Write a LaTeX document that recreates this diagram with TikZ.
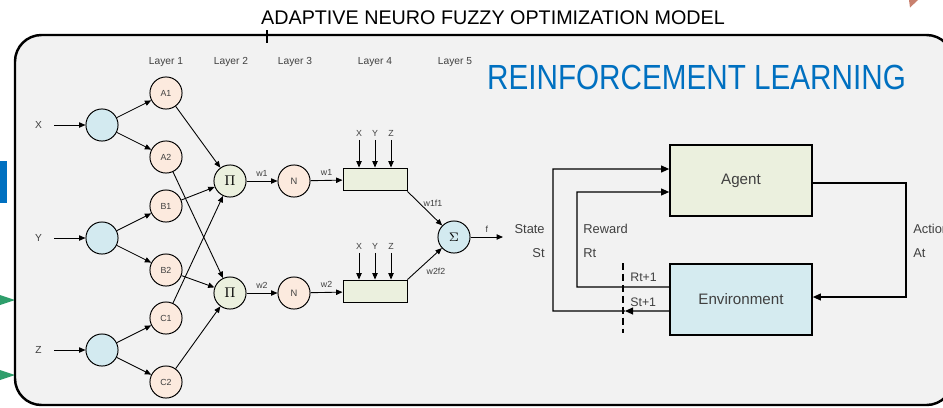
\documentclass[tikz,border=0pt]{standalone}
\usepackage{fontspec}
\setmainfont{Liberation Sans}
\usetikzlibrary{arrows.meta}
\definecolor{bgc}{HTML}{F2F2F2}
\definecolor{inblue}{HTML}{D3EAF0}
\definecolor{peach}{HTML}{FCEADE}
\definecolor{pigreen}{HTML}{EBF0DE}
\definecolor{envblue}{HTML}{D5EBF0}
\definecolor{rlblue}{HTML}{0070C0}
\definecolor{txtgray}{HTML}{404040}
\definecolor{artgreen}{HTML}{2E9E6B}
\definecolor{artbrown}{HTML}{C8806E}
\tikzset{
  circ/.style={circle, draw=black, line width=0.55pt, minimum size=18.2pt, inner sep=0pt},
  inc/.style={circ, fill=inblue},
  mfc/.style={circ, fill=peach, font=\fontsize{5}{6}\selectfont, text=txtgray},
  pic/.style={circ, fill=pigreen, font=\fontsize{8}{9}\selectfont},
  nc/.style={circ, fill=peach, font=\fontsize{5.3}{6}\selectfont, text=txtgray},
  sumc/.style={circ, fill=inblue, font=\fontsize{7}{8}\selectfont},
  lbox/.style={draw=black, line width=0.55pt, fill=pigreen, minimum width=36.3pt, minimum height=13pt, inner sep=0pt},
  bigbox/.style={draw=black, line width=1pt, minimum width=80.5pt, minimum height=40.3pt, inner sep=0pt, font=\fontsize{8.6}{10}\selectfont, text=txtgray},
  arr/.style={line width=0.5pt, -{Triangle[length=3.6pt,width=3pt]}},
  barr/.style={line width=0.6pt, -{Triangle[length=4.6pt,width=4pt]}},
  plain/.style={line width=0.6pt},
  small/.style={font=\fontsize{5.8}{7}\selectfont, text=txtgray, inner sep=0pt},
  tiny/.style={font=\fontsize{5}{6}\selectfont, text=txtgray, inner sep=0pt},
  rlab/.style={font=\fontsize{7.3}{9}\selectfont, text=txtgray, inner sep=0pt},
  dashline/.style={line width=1.4pt, dash pattern=on 4pt off 2.2pt}
}
\begin{document}
\begin{tikzpicture}[x=0.5672pt,y=-0.5672pt]
\useasboundingbox (0,0) rectangle (943,407);
% stray fragments at the edges
\fill[rlblue] (0,161) rectangle (7,203);
\fill[artgreen] (0,295) -- (15,300) -- (0,305) -- cycle;
\fill[artgreen] (0,370) -- (15,375) -- (0,380) -- cycle;
\fill[artbrown] (909,0) -- (918,0) -- (910,7.5) -- cycle;
% title
\node[font=\fontsize{11.2}{13}\selectfont, inner sep=0pt] (title) at (493,18) {ADAPTIVE NEURO FUZZY OPTIMIZATION MODEL};
% frame
\draw[line width=1.4pt, fill=bgc, rounded corners=15pt] (15,35) rectangle (953,405);
\draw[line width=0.6pt] (267,30) -- (267,43);
% RL heading
\node[font=\fontsize{19.8}{22}\selectfont, text=rlblue, inner sep=0pt] (rl) at (696.5,77) {\scalebox{0.85}[1]{REINFORCEMENT LEARNING}};
% layer labels
\node[small] (l1) at (166,62) {Layer 1};
\node[small] (l2) at (231,62) {Layer 2};
\node[small] (l3) at (295,62) {Layer 3};
\node[small] (l4) at (375,62) {Layer 4};
\node[small] (l5) at (455,62) {Layer 5};
% inputs
\node[small] (xl) at (38.5,125) {X};
\node[small] (yl) at (38.5,238) {Y};
\node[small] (zl) at (38.5,350) {Z};
\node[inc] (X) at (102,125) {};
\node[inc] (Y) at (102,238) {};
\node[inc] (Z) at (102,350) {};
\draw[arr] (54,125) -- (X);
\draw[arr] (54,238) -- (Y);
\draw[arr] (54,350) -- (Z);
% layer 1
\node[mfc] (A1) at (166,93) {A1};
\node[mfc] (A2) at (166,157) {A2};
\node[mfc] (B1) at (166,206) {B1};
\node[mfc] (B2) at (166,270) {B2};
\node[mfc] (C1) at (166,318) {C1};
\node[mfc] (C2) at (166,382) {C2};
\draw[arr] (X) -- (A1); \draw[arr] (X) -- (A2);
\draw[arr] (Y) -- (B1); \draw[arr] (Y) -- (B2);
\draw[arr] (Z) -- (C1); \draw[arr] (Z) -- (C2);
% layer 2
\node[pic] (P1) at (230,181) {$\Pi$};
\node[pic] (P2) at (230,293) {$\Pi$};
\draw[arr] (A1) -- (P1); \draw[arr] (B1) -- (P1); \draw[arr] (C1) -- (P1);
\draw[arr] (A2) -- (P2); \draw[arr] (B2) -- (P2); \draw[arr] (C2) -- (P2);
% layer 3
\node[nc] (N1) at (294,181) {N};
\node[nc] (N2) at (294,293) {N};
\draw[arr] (P1) -- (N1) node[tiny, midway, above=2.5pt] {w1};
\draw[arr] (P2) -- (N2) node[tiny, midway, above=2.5pt] {w2};
% layer 4
\node[lbox] (R1) at (375,179.5) {};
\node[lbox] (R2) at (375,291.5) {};
\draw[arr] (N1) -- (R1) node[tiny, midway, above=2.5pt] {w1};
\draw[arr] (N2) -- (R2) node[tiny, midway, above=2.5pt] {w2};
\node[tiny] (x1) at (359,133) {X};
\node[tiny] (y1) at (375,133) {Y};
\node[tiny] (z1) at (391,133) {Z};
\node[tiny] (x2) at (359,246) {X};
\node[tiny] (y2) at (375,246) {Y};
\node[tiny] (z2) at (391,246) {Z};
\foreach \a in {x1,y1,z1}{\draw[arr] ([yshift=-2pt]\a.south) -- (\a.south |- R1.north);}
\foreach \a in {x2,y2,z2}{\draw[arr] ([yshift=-2pt]\a.south) -- (\a.south |- R2.north);}
% layer 5
\node[sumc] (S) at (454,237) {$\Sigma$};
\draw[arr] (R1.south east) -- (S);
\draw[arr] (R2.north east) -- (S);
\node[tiny] (w1f1) at (433,203) {w1f1};
\node[tiny] (w2f2) at (436,271) {w2f2};
\coordinate (fo) at (503,237);
\draw[arr] (S) -- (fo) node[tiny, midway, above=2.5pt] {f};
% reinforcement learning loop
\node[bigbox, fill=pigreen] (ag) at (741,180.5) {Agent};
\node[bigbox, fill=envblue] (en) at (741,299.5) {Environment};
\coordinate (stx) at (625,311);
\draw[barr] ([yshift=-6.52pt]en.west) -- (stx);
\draw[barr] (stx) -- (553,311) -- (553,169) -- ([yshift=6.52pt]ag.west);
\draw[barr] ([yshift=7.09pt]en.west) -- (577,287) -- (577,192) -- ([yshift=-6.52pt]ag.west);
\draw[barr] ([yshift=-1.42pt]ag.east) -| (906,240) |- ([yshift=1.42pt]en.east);
\draw[dashline] (623,263) -- (623,333);
\node[rlab, anchor=east] (state) at (545,229) {State};
\node[rlab, anchor=east] (st) at (545,253) {St};
\node[rlab, anchor=west] (reward) at (583,229) {Reward};
\node[rlab, anchor=west] (rt) at (583,253) {Rt};
\node[rlab, anchor=west] (action) at (913,229) {Action};
\node[rlab, anchor=west] (at) at (913,253) {At};
\node[rlab, anchor=west, font=\fontsize{7}{8}\selectfont] (rt1) at (630,277) {Rt+1};
\node[rlab, anchor=west, font=\fontsize{7}{8}\selectfont] (st1) at (630,302) {St+1};
\end{tikzpicture}
\end{document}
